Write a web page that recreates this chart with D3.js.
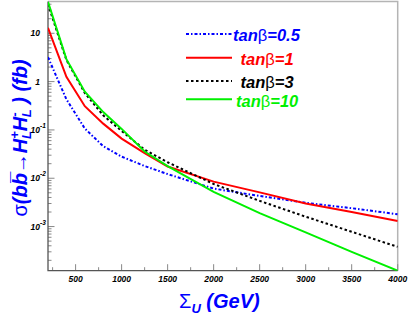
<!DOCTYPE html>
<html>
<head>
<meta charset="utf-8">
<script src="https://cdn.jsdelivr.net/npm/d3@7"></script>
<style>
  body { margin: 0; background: #fff; }
  text { font-family: "Liberation Sans", Arial, sans-serif; }
</style>
</head>
<body>
<div id="chart"></div>
<script>

// sigma_U grid (GeV)
var sigmaU = [200, 400, 600, 800, 1000, 1250, 1500, 2000, 2500, 3000, 3500, 4000];

// cross sections (fb)
var tanb05 = [3.2, 0.43, 0.107, 0.046, 0.028, 0.0179, 0.0122, 0.0061, 0.0043, 0.0031, 0.0024, 0.0018];
var tanb1  = [13, 1.26, 0.31, 0.135, 0.066, 0.033, 0.0175, 0.0085, 0.0051, 0.0030, 0.0020, 0.0013];
var tanb3  = [40, 2.8, 0.58, 0.20, 0.095, 0.039, 0.0214, 0.0076, 0.0034, 0.0016, 0.00078, 0.00038];
var tanb10 = [45, 2.92, 0.62, 0.234, 0.105, 0.0357, 0.0179, 0.0052, 0.0019, 0.00076, 0.00030, 0.000122];

var legendLabels = ["0.5", "1", "3", "10"];
var xTicks = [500, 1000, 1500, 2000, 2500, 3000, 3500, 4000];
var yTicks = [1e-3, 1e-2, 1e-1, 1, 10];

var width = 409, height = 317;

var svg = d3.select("#chart").append("svg")
    .attr("width", width)
    .attr("height", height);

// scales
var x = d3.scaleLinear().domain([200, 4000]).range([48, 397.7]);
var y = d3.scaleLog().domain([1.22e-4, 45.5]).range([270.7, 1.5]);

// frame (top and right, light grey)
svg.append("path")
    .attr("d", "M" + x.range()[0] + "," + y.range()[1] + "H" + x.range()[1] + "V" + y.range()[0])
    .attr("fill", "none")
    .attr("stroke", "#b4b4b4")
    .attr("stroke-width", 1.5);

// x axis ticks (inside)
var xMinor = d3.range(250, 4001, 250);
svg.append("g")
    .attr("class", "x axis")
  .selectAll("line")
    .data(xMinor)
    .enter().append("line")
    .attr("x1", function(d) { return x(d); })
    .attr("x2", function(d) { return x(d); })
    .attr("y1", y.range()[0])
    .attr("y2", function(d) { return y.range()[0] - (d % 500 == 0 ? 6.5 : 3.5); })
    .attr("stroke", "#888")
    .attr("stroke-width", 1);

svg.append("g")
  .selectAll("text")
    .data(xTicks)
    .enter().append("text")
    .attr("x", function(d) { return x(d); })
    .attr("y", 282)
    .attr("text-anchor", "middle")
    .style("font-size", "8.5px")
    .style("font-weight", "700")
    .style("font-style", "italic")
    .text(function(d) { return d; });

// y axis ticks: majors and 2..9 minors
var yMinor = [];
[-4, -3, -2, -1, 0, 1].forEach(function(e) {
  for (var k = 1; k <= 9; k++) {
    var v = k * Math.pow(10, e);
    if (v >= y.domain()[0] && v <= y.domain()[1]) yMinor.push({v: v, major: k == 1});
  }
});

svg.append("g")
    .attr("class", "y axis")
  .selectAll("line")
    .data(yMinor)
    .enter().append("line")
    .attr("x1", x.range()[0])
    .attr("x2", function(d) { return x.range()[0] + (d.major ? 6.5 : 3.5); })
    .attr("y1", function(d) { return y(d.v); })
    .attr("y2", function(d) { return y(d.v); })
    .attr("stroke", "#888")
    .attr("stroke-width", 1);

// y tick labels, 10^n style
var ylab = svg.append("g").selectAll("text")
    .data(yTicks)
    .enter().append("text")
    .attr("y", function(d) { return y(d) + 3; })
    .style("font-size", "8.5px")
    .style("font-weight", "700")
    .style("font-style", "italic");

ylab.each(function(d) {
  var t = d3.select(this);
  var e = Math.round(Math.log10(d));
  if (e == 0) {
    t.attr("x", 40).attr("text-anchor", "end").text("1");
  } else if (e == 1) {
    t.attr("x", 40).attr("text-anchor", "end").text("10");
  } else {
    t.attr("x", 30.5).attr("text-anchor", "start");
    t.append("tspan").text("10");
    t.append("tspan").attr("dy", -5).style("font-size", "6.5px").text(e);
  }
});

// axis lines
svg.append("path")
    .attr("d", "M" + x.range()[0] + "," + y.range()[1] + "V" + y.range()[0] + "H" + x.range()[1])
    .attr("fill", "none")
    .attr("stroke", "#555")
    .attr("stroke-width", 1.3);

// curves
var series = [
  {vals: tanb05, color: "#0000ff", dash: "3,2,1.5,2", lab: legendLabels[0]},
  {vals: tanb1,  color: "#ff0000", dash: null,        lab: legendLabels[1]},
  {vals: tanb3,  color: "#000000", dash: "2.5,2.5",   lab: legendLabels[2]},
  {vals: tanb10, color: "#00f000", dash: null,        lab: legendLabels[3]}
];

var line = d3.line()
    .x(function(d) { return x(d[0]); })
    .y(function(d) { return y(d[1]); });

svg.append("defs").append("clipPath").attr("id", "clip")
  .append("rect")
    .attr("x", x.range()[0]).attr("y", y.range()[1])
    .attr("width", x.range()[1] - x.range()[0])
    .attr("height", y.range()[0] - y.range()[1]);

series.forEach(function(s) {
  svg.append("path")
      .datum(sigmaU.map(function(v, i) { return [v, s.vals[i]]; }))
      .attr("clip-path", "url(#clip)")
      .attr("d", line)
      .attr("fill", "none")
      .attr("stroke", s.color)
      .attr("stroke-width", 2)
      .attr("stroke-dasharray", s.dash);
});

// legend
var legY = [34, 57.7, 81, 99.3];
var legTextX = [233, 240.5, 240.5, 236];
var legTextY = [40.5, 64.5, 88, 107];

series.forEach(function(s, i) {
  svg.append("line")
      .attr("x1", 186).attr("x2", 232)
      .attr("y1", legY[i]).attr("y2", legY[i])
      .attr("stroke", s.color)
      .attr("stroke-width", 2)
      .attr("stroke-dasharray", s.dash);
  var t = svg.append("text")
      .attr("x", legTextX[i])
      .attr("y", legTextY[i])
      .attr("fill", s.color)
      .style("font-size", "16.5px")
      .style("font-weight", "700")
      .style("font-style", "italic");
  t.append("tspan").text("tan");
  t.append("tspan").style("font-style", "normal").style("font-weight", "400").text("\u03b2");
  t.append("tspan").text("=" + s.lab);
});

// x title
var xt = svg.append("text")
    .attr("x", 179)
    .attr("y", 308)
    .attr("fill", "#0000ff")
    .style("font-size", "20px")
    .style("font-weight", "700")
    .style("font-style", "italic");
xt.append("tspan").style("font-style", "normal").style("font-weight", "400").text("\u03a3");
xt.append("tspan").attr("dy", 5).style("font-size", "13px").text("U");
xt.append("tspan").attr("dy", -5).text(" (GeV)");

// y title
var yt = svg.append("text")
    .attr("transform", "translate(27,138) rotate(-90)")
    .attr("text-anchor", "middle")
    .attr("fill", "#0000ff")
    .style("font-size", "20px")
    .style("font-weight", "700")
    .style("font-style", "italic");
yt.append("tspan").style("font-style", "normal").style("font-weight", "400").text("\u03c3");
yt.append("tspan").text("(b");
yt.append("tspan").text("b\u0305");
yt.append("tspan").style("font-weight", "400").text("\u2192");
yt.append("tspan").text("H");
yt.append("tspan").attr("dy", -8).style("font-size", "13px").text("+");
yt.append("tspan").attr("dx", -8).attr("dy", 12).style("font-size", "13px").text("L");
yt.append("tspan").attr("dy", -4).text("H");
yt.append("tspan").attr("dy", -8).style("font-size", "13px").text("-");
yt.append("tspan").attr("dx", -5).attr("dy", 12).style("font-size", "13px").text("L");
yt.append("tspan").attr("dy", -4).text(" ) (fb)");

</script>
</body>
</html>
